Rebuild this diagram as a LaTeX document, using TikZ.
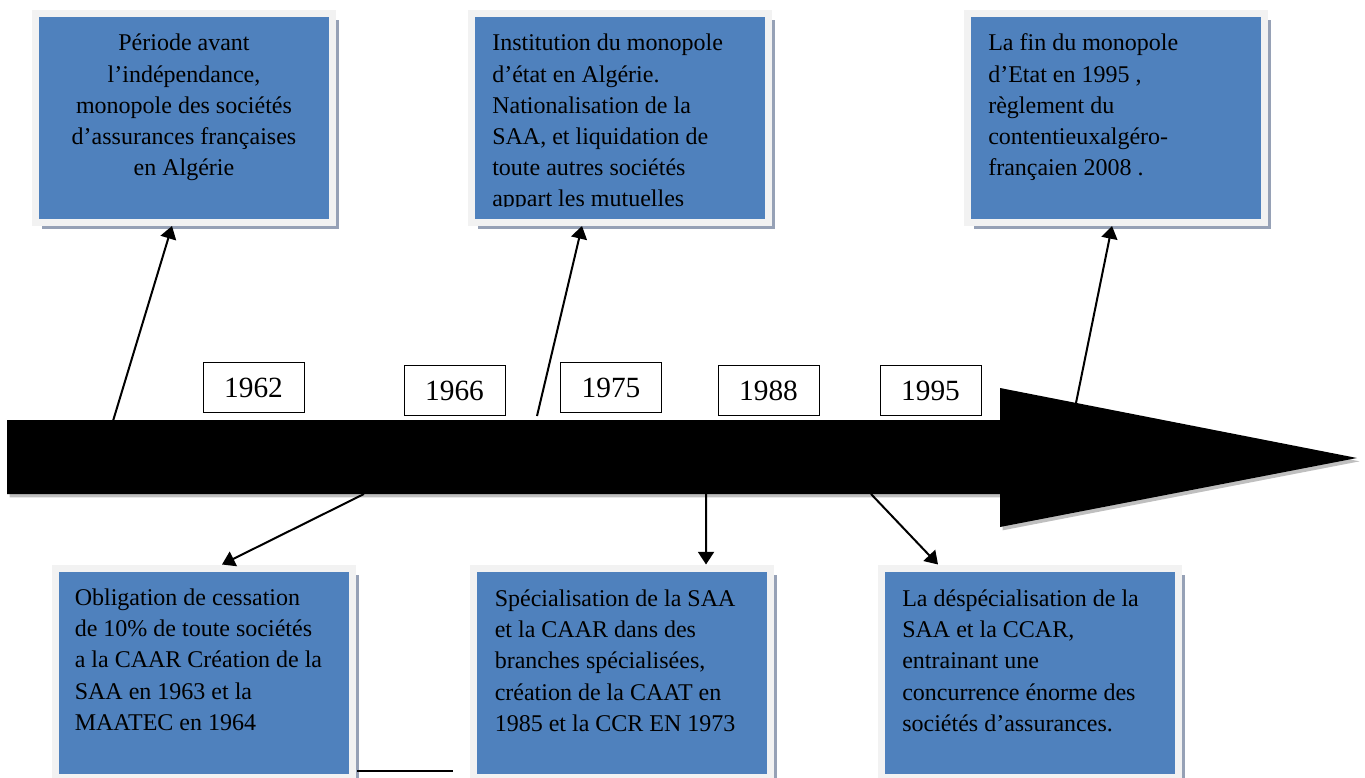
\documentclass[tikz,border=0pt]{standalone}
\usepackage{fontspec}
\setmainfont{Liberation Serif}
\usetikzlibrary{positioning,shadows,arrows.meta}
\definecolor{boxblue}{RGB}{79,129,189}
\definecolor{boxframe}{RGB}{242,242,242}
\definecolor{boxshadow}{RGB}{150,161,182}

\begin{document}
\begin{tikzpicture}[x=0.75pt, y=-0.75pt,
		box/.style={draw=boxframe, line width=5.25pt, fill=boxblue, minimum width=222.75pt, minimum height=156.75pt, inner sep=0pt,
			drop shadow={shadow xshift=4.9pt, shadow yshift=-4.9pt, fill=boxshadow, opacity=1}},
		txt/.style={inner sep=0pt, align=left, font=\fontsize{18}{23.4}\selectfont},
		year/.style={draw, line width=0.75pt, fill=white, minimum width=75.75pt, minimum height=37.5pt, inner sep=0pt, font=\fontsize{22}{26}\selectfont},
		conn/.style={line width=1.5pt, -{Triangle[length=9.5pt,width=12pt]}}]
		\useasboundingbox (0,0) rectangle (1365,778);
		\clip (0,0) rectangle (1365,778);

		% la fleche du temps
		\fill[drop shadow={shadow xshift=2pt, shadow yshift=-2.5pt, fill=black!25, opacity=1}]
			(7,420) -- (1000,420) -- (1000,388) -- (1357,458) -- (1000,527) -- (1000,494) -- (7,494) -- cycle;

		\node[year] (y1962) at (253.5,387.5) {1962};
		\node[year] (y1966) at (454.5,390.5) {1966};
		\node[year] (y1975) at (611,387.5) {1975};
		\node[year] (y1988) at (768.5,390.5) {1988};
		\node[year] (y1995) at (930.5,390.5) {1995};

		% les cadres
		\node[box] (b1) at (184,118) {};
		\node[box] (b2) at (620,118) {};
		\node[box] (b3) at (1116,118) {};
		\node[box] (b4) at (204,672.5) {};
		\node[box] (b5) at (621.5,672.5) {};
		\node[box] (b6) at (1030,672.5) {};

		\node[txt, align=center] (t1) [below=14.1pt of b1.north] {\strut Période avant\\l’indépendance,\\monopole des sociétés\\d’assurances françaises\\en Algérie};
		\begin{scope}
			\clip (471,17) rectangle (769,206);
			\node[txt] (t2) [below right=14.1pt and 18pt of b2.north west] {\strut Institution du monopole\\d’état en Algérie.\\Nationalisation de la\\SAA, et liquidation de\\toute autres sociétés\\appart les mutuelles};
		\end{scope}
		\node[txt] (t3) [below right=14.1pt and 18pt of b3.north west] {\strut La fin du monopole\\d’Etat en 1995 ,\\règlement du\\contentieuxalgéro-\\françaien 2008 .};
		\node[txt] (t4) [below right=14.1pt and 16.9pt of b4.north west] {\strut Obligation de cessation\\de 10\% de toute sociétés\\a la CAAR Création de la\\SAA en 1963 et la\\MAATEC en 1964};
		\node[txt] (t5) [below right=14.85pt and 18.75pt of b5.north west] {\strut Spécialisation de la SAA\\et la CAAR dans des\\branches spécialisées,\\création de la CAAT en\\1985 et la CCR EN 1973};
		\node[txt] (t6) [below right=14.85pt and 18pt of b6.north west] {\strut La déspécialisation de la\\SAA et la CCAR,\\entrainant une\\concurrence énorme des\\sociétés d’assurances.};

		% les liaisons
		\coordinate (c1) at (113,421);
		\coordinate (c2) at (537,416);
		\coordinate (c3) at (1076,403);
		\coordinate (c4) at (364,494);
		\coordinate (c5) at (706,494);
		\coordinate (c6) at (871,494);
		\draw[conn] (c1) -- ([xshift=-9pt]b1.south);
		\draw[conn] (c2) -- ([xshift=-28.5pt]b2.south);
		\draw[conn] (c3) -- ([xshift=-3pt]b3.south);
		\draw[conn] (c4) -- ([xshift=13.5pt]b4.north);
		\draw[conn] (c5) -- ([xshift=63.4pt]b5.north);
		\draw[conn] (c6) -- ([xshift=-69pt]b6.north);

		\coordinate (l1) at (357,771);
		\coordinate (l2) at (453,771);
		\draw[line width=1.5pt] (l1) -- (l2);
	\end{tikzpicture}
\end{document}
